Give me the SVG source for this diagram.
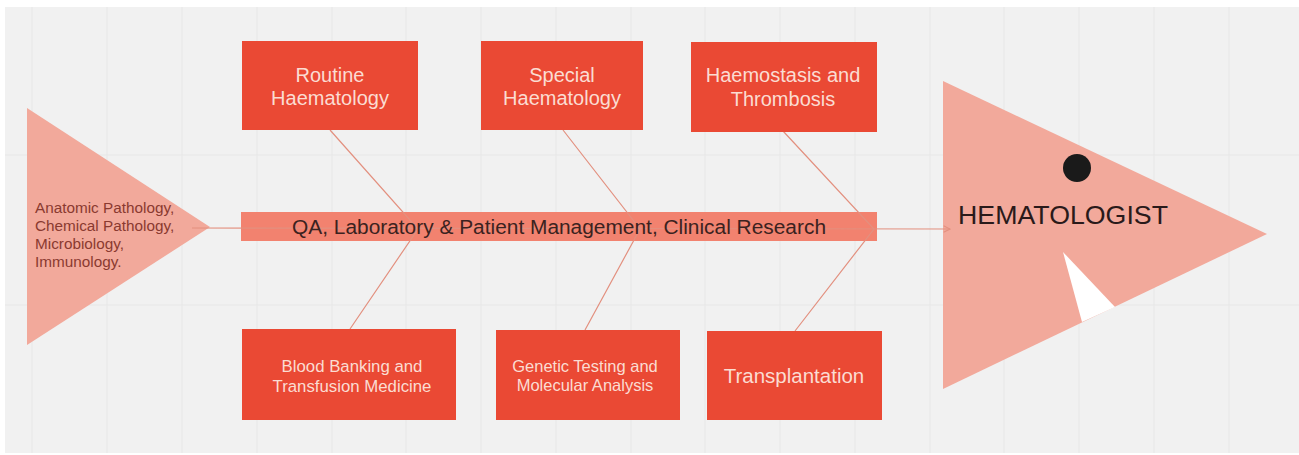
<svg xmlns="http://www.w3.org/2000/svg" width="1299" height="455" viewBox="0 0 1299 455">
  <defs>
    <style>
      .box { fill: #ea4934; }
      .boxtxt { font-family: "Liberation Sans", Arial, sans-serif; fill: #fbdcd2; text-anchor: middle; }
      .fin { fill: #f2a99b; }
      .grid { stroke: #e7e7e7; stroke-width: 1; }
      .bone { stroke: #e3907f; stroke-width: 1.2; fill: none; }
    </style>
    <marker id="arrow" viewBox="0 0 10 10" refX="9" refY="5" markerWidth="8" markerHeight="8" orient="auto" markerUnits="userSpaceOnUse">
      <path d="M1,1 L9,5 L1,9" fill="none" stroke="#e3907f" stroke-width="1.4"/>
    </marker>
  </defs>

  <!-- canvas -->
  <rect x="0" y="0" width="1299" height="455" fill="#ffffff"/>
  <rect x="5" y="7" width="1294" height="446" fill="#f1f1f1"/>
  <g id="grid">
    <line class="grid" x1="32" y1="7" x2="32" y2="453"/>
    <line class="grid" x1="107" y1="7" x2="107" y2="453"/>
    <line class="grid" x1="182" y1="7" x2="182" y2="453"/>
    <line class="grid" x1="257" y1="7" x2="257" y2="453"/>
    <line class="grid" x1="332" y1="7" x2="332" y2="453"/>
    <line class="grid" x1="406" y1="7" x2="406" y2="453"/>
    <line class="grid" x1="481" y1="7" x2="481" y2="453"/>
    <line class="grid" x1="556" y1="7" x2="556" y2="453"/>
    <line class="grid" x1="631" y1="7" x2="631" y2="453"/>
    <line class="grid" x1="705" y1="7" x2="705" y2="453"/>
    <line class="grid" x1="780" y1="7" x2="780" y2="453"/>
    <line class="grid" x1="855" y1="7" x2="855" y2="453"/>
    <line class="grid" x1="930" y1="7" x2="930" y2="453"/>
    <line class="grid" x1="1004" y1="7" x2="1004" y2="453"/>
    <line class="grid" x1="1079" y1="7" x2="1079" y2="453"/>
    <line class="grid" x1="1154" y1="7" x2="1154" y2="453"/>
    <line class="grid" x1="1229" y1="7" x2="1229" y2="453"/>
    <line class="grid" x1="5" y1="155" x2="1299" y2="155"/>
    <line class="grid" x1="5" y1="305" x2="1299" y2="305"/>
  </g>

  <!-- tail -->
  <g id="tail">
    <polygon class="fin" points="27,108 27,345 210,227"/>
    <g font-family="Liberation Sans, Arial, sans-serif" font-size="15.3" fill="#8a3a30">
      <text x="35" y="213">Anatomic Pathology,</text>
      <text x="35" y="231">Chemical Pathology,</text>
      <text x="35" y="249">Microbiology,</text>
      <text x="35" y="267">Immunology.</text>
    </g>
  </g>

  <!-- head -->
  <g id="head">
    <polygon class="fin" points="943,81 1267,234 943,389"/>
    <polygon points="1063,252 1115,307 1082,322" fill="#ffffff"/>
    <circle cx="1077" cy="168" r="14" fill="#1a1a1a"/>
    <text x="958" y="224" font-family="Liberation Sans, Arial, sans-serif" font-size="25" fill="#2a1a1a" textLength="210" lengthAdjust="spacingAndGlyphs">HEMATOLOGIST</text>
  </g>

  <!-- spine band -->
  <rect id="spine-band" x="241" y="212" width="636" height="29" fill="#f2826f"/>

  <!-- connectors -->
  <g id="connectors">
    <line class="bone" x1="192" y1="228" x2="950" y2="229" marker-end="url(#arrow)"/>
    <polyline class="bone" points="330,130 418,229 350,329"/>
    <polyline class="bone" points="563,130 640,229 585,330"/>
    <polyline class="bone" points="783,131 874,229 795,331"/>
  </g>

  <g id="spine-label">
    <text x="559" y="234" font-family="Liberation Sans, Arial, sans-serif" font-size="20" fill="#3b2220" text-anchor="middle" textLength="534" lengthAdjust="spacingAndGlyphs">QA, Laboratory &amp; Patient Management, Clinical Research</text>
  </g>

  <!-- top categories -->
  <g id="routine-haematology">
    <rect class="box" x="242" y="41" width="176" height="89"/>
    <text class="boxtxt" x="330" y="82" font-size="20">Routine</text>
    <text class="boxtxt" x="330" y="105" font-size="20">Haematology</text>
  </g>
  <g id="special-haematology">
    <rect class="box" x="481" y="41" width="162" height="89"/>
    <text class="boxtxt" x="562" y="82" font-size="20">Special</text>
    <text class="boxtxt" x="562" y="105" font-size="20">Haematology</text>
  </g>
  <g id="haemostasis-thrombosis">
    <rect class="box" x="691" y="42" width="186" height="90"/>
    <text class="boxtxt" x="783" y="82" font-size="20">Haemostasis and</text>
    <text class="boxtxt" x="783" y="106" font-size="20">Thrombosis</text>
  </g>

  <!-- bottom categories -->
  <g id="blood-banking">
    <rect class="box" x="242" y="329" width="214" height="91"/>
    <text class="boxtxt" x="352" y="372" font-size="16.8">Blood Banking and</text>
    <text class="boxtxt" x="352" y="392" font-size="16.8">Transfusion Medicine</text>
  </g>
  <g id="genetic-testing">
    <rect class="box" x="496" y="330" width="184" height="90"/>
    <text class="boxtxt" x="585" y="372" font-size="16.5">Genetic Testing and</text>
    <text class="boxtxt" x="585" y="391" font-size="16.5">Molecular Analysis</text>
  </g>
  <g id="transplantation">
    <rect class="box" x="707" y="331" width="175" height="89"/>
    <text class="boxtxt" x="794" y="383" font-size="20.5">Transplantation</text>
  </g>
</svg>
